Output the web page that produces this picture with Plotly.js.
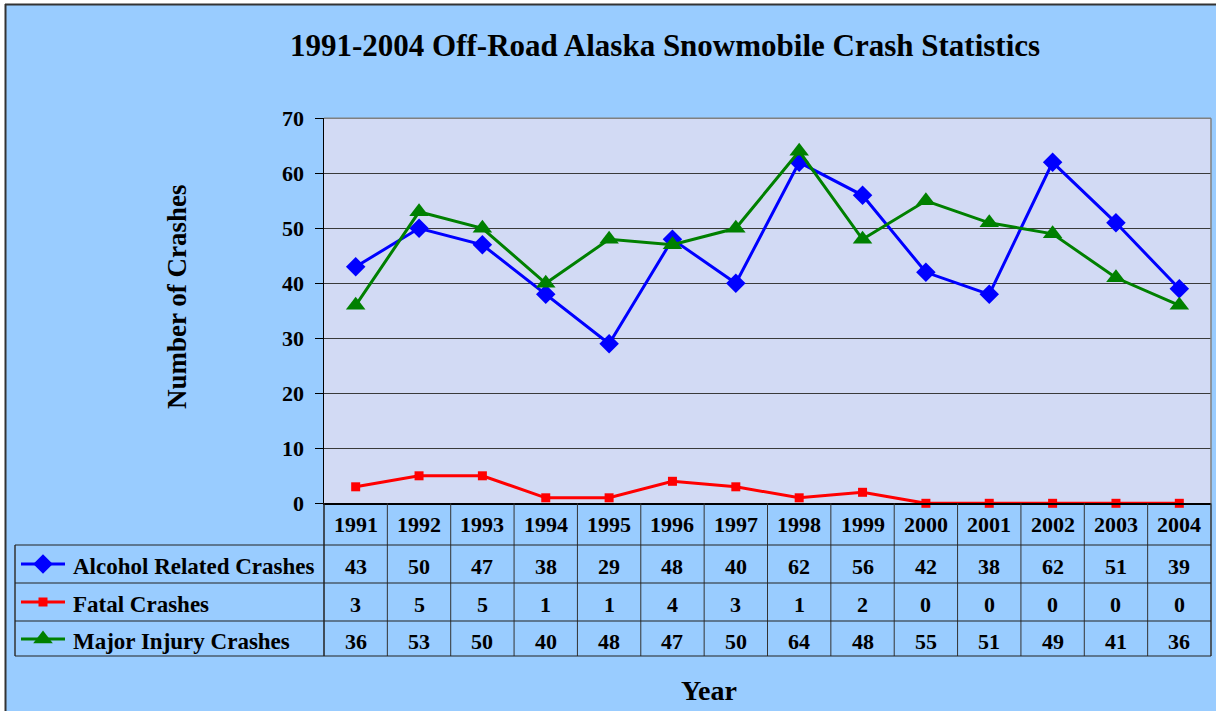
<!DOCTYPE html>
<html>
<head>
<meta charset="utf-8">
<script src="https://cdn.plot.ly/plotly-3.0.1.min.js"></script>
<style>html,body{margin:0;padding:0;background:#fff;}#chart{width:1216px;height:711px;}</style>
</head>
<body>
<div id="chart"></div>
<script>
// ---- Data ----
const years = ['1991','1992','1993','1994','1995','1996','1997','1998','1999','2000','2001','2002','2003','2004'];
const alcoholRelated = [43,50,47,38,29,48,40,62,56,42,38,62,51,39];
const fatalCrashes   = [3,5,5,1,1,4,3,1,2,0,0,0,0,0];
const majorInjury    = [36,53,50,40,48,47,50,64,48,55,51,49,41,36];
const seriesNames = ['Alcohol Related Crashes','Fatal Crashes','Major Injury Crashes'];
const yTicks = [0,10,20,30,40,50,60,70];

// ---- Layout geometry (pixels) ----
const W = 1216, H = 711;
const X0 = 324, X1 = 1211, YB = 503.3, YT = 118.3;
const px = x => x / W;
const py = y => (H - y) / H;
const colW = (X1 - X0) / years.length;
const rowLines = [545, 583, 621, 656];
const rowText = [566, 604, 641];
const tableLeft = 15;
const FONT = 'Liberation Serif, Times New Roman, serif';

const series = [
  {name: seriesNames[0], y: alcoholRelated, color: '#0000ff', symbol: 'diamond', size: 15},
  {name: seriesNames[1], y: fatalCrashes,   color: '#ff0000', symbol: 'square', size: 9},
  {name: seriesNames[2], y: majorInjury,    color: '#008000', symbol: 'triangle-up', size: 17}
];

const traces = [];
series.forEach(s => {
  traces.push({
    type: 'scatter', mode: 'lines+markers', x: years, y: s.y, name: s.name,
    line: {color: s.color, width: 3},
    marker: {color: s.color, symbol: s.symbol, size: s.size},
    cliponaxis: false, showlegend: false, hoverinfo: 'x+y+name'
  });
});
// legend keys in the data table (pixel-unit helper axes)
series.forEach((s, i) => {
  traces.push({
    type: 'scatter', mode: 'lines', x: [21, 65], y: [rowText[i] - 2, rowText[i] - 2],
    xaxis: 'x2', yaxis: 'y2', line: {color: s.color, width: 3},
    showlegend: false, hoverinfo: 'skip'
  });
  traces.push({
    type: 'scatter', mode: 'markers', x: [43], y: [rowText[i] - 2],
    xaxis: 'x2', yaxis: 'y2', marker: {color: s.color, symbol: s.symbol, size: s.size},
    showlegend: false, hoverinfo: 'skip', cliponaxis: false
  });
});

const shapes = [];
// plot area background (only for the main chart)
shapes.push({type:'rect', xref:'x domain', yref:'y domain', x0:0, x1:1, y0:0, y1:1,
  fillcolor:'#d2daf4', line:{width:0}, layer:'below'});
const line = (x0, y0, x1, y1, color, width) => shapes.push({
  type: 'line', xref: 'paper', yref: 'paper',
  x0: px(x0), y0: py(y0), x1: px(x1), y1: py(y1),
  line: {color: color, width: width}
});
// outer frame
shapes.push({type:'rect', xref:'paper', yref:'paper', x0:0, x1:px(5), y0:0, y1:1, fillcolor:'#ffffff', line:{width:0}});
shapes.push({type:'rect', xref:'paper', yref:'paper', x0:0, x1:1, y0:py(4), y1:1, fillcolor:'#ffffff', line:{width:0}});
line(5.5, 4, 5.5, H, '#333333', 2);
line(5, 4.5, W, 4.5, '#333333', 2);
// plot border (top/right)
line(X0, YT, X1, YT, '#808080', 1.5);
line(X1, YT, X1, YB, '#808080', 1.5);
// table grid
for (let k = 0; k <= years.length; k++) {
  const x = X0 + k * colW;
  line(x, YB, x, rowLines[3], k === 0 ? '#222222' : '#333333', k === 0 || k === years.length ? 1.5 : 1);
}
line(tableLeft, rowLines[0], tableLeft, rowLines[3], '#333333', 1.5);
rowLines.forEach(y => line(tableLeft, y, X1, y, '#222222', 1.2));

const annotations = [];
const ann = (text, x, xref, y, size, extra) => annotations.push(Object.assign({
  text: '<b>' + text + '</b>', x: x, xref: xref, y: py(y), yref: 'paper',
  showarrow: false, xanchor: 'center', yanchor: 'middle',
  font: {family: FONT, size: size, color: '#000'}
}, extra || {}));

years.forEach((yr, i) => {
  ann(yr, i, 'x', 524, 22);
  ann(String(alcoholRelated[i]), i, 'x', rowText[0], 22);
  ann(String(fatalCrashes[i]), i, 'x', rowText[1], 22);
  ann(String(majorInjury[i]), i, 'x', rowText[2], 22);
});
seriesNames.forEach((n, i) => ann(n, px(71), 'paper', rowText[i], 23, {xanchor: 'left'}));
ann('1991-2004 Off-Road Alaska Snowmobile Crash Statistics', px(665), 'paper', 45, 31);
ann('Number of Crashes', px(177), 'paper', 297, 27, {textangle: -90});
ann('Year', px(709), 'paper', 690, 28);

const layout = {
  width: W, height: H,
  margin: {l: 0, r: 0, t: 0, b: 0, pad: 0},
  paper_bgcolor: '#99ccff',
  plot_bgcolor: 'rgba(0,0,0,0)',
  font: {family: FONT, color: '#000'},
  showlegend: false,
  xaxis: {
    type: 'category', domain: [px(X0), px(X1)], range: [-0.5, years.length - 0.5],
    showticklabels: false, ticks: '', showgrid: false, zeroline: false,
    showline: true, linecolor: '#000', linewidth: 1.5, fixedrange: true
  },
  yaxis: {
    domain: [py(YB), py(YT)], range: [0, 70], tickvals: yTicks,
    ticks: 'outside', ticklen: 8, tickcolor: '#000', tickwidth: 1,
    tickfont: {family: FONT, size: 22, color: '#000', weight: 'bold'},
    showgrid: true, gridcolor: '#3a3a3a', gridwidth: 1, zeroline: false,
    showline: true, linecolor: '#000', linewidth: 1.5, ticklabelstandoff: 6, fixedrange: true
  },
  xaxis2: {domain: [px(tableLeft), px(70)], range: [tableLeft, 70], visible: false, fixedrange: true, anchor: 'y2'},
  yaxis2: {domain: [py(rowLines[3]), py(rowLines[0])], range: [rowLines[3], rowLines[0]], visible: false, fixedrange: true, anchor: 'x2'},
  shapes: shapes,
  annotations: annotations
};

Plotly.newPlot('chart', traces, layout, {displayModeBar: false, staticPlot: true});
</script>
</body>
</html>
